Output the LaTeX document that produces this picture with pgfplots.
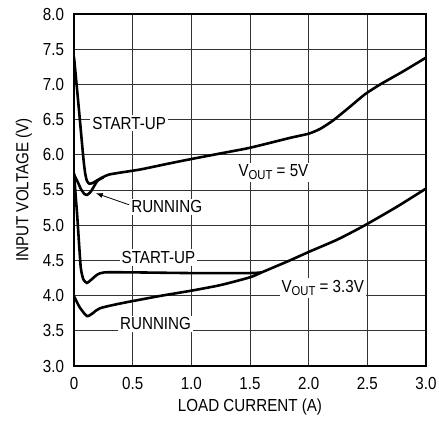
\documentclass[border=0pt]{standalone}
\usepackage{pgfplots}
\pgfplotsset{compat=1.18}
\usepackage{fontspec}
\setmainfont{Liberation Sans}[FakeStretch=0.87]
\usetikzlibrary{arrows.meta}
\newcommand{\vout}{V\raisebox{-0.35ex}{\fontsize{13}{13}\selectfont OUT}}
\begin{document}
\fontsize{17.5}{20}\selectfont
\begin{tikzpicture}
\begin{axis}[
  scale only axis,
  width=352bp, height=352bp,
  xmin=0, xmax=3, ymin=3, ymax=8,
  xtick={0,0.5,...,3}, ytick={3,3.5,...,8},
  xticklabels={0,0.5,1.0,1.5,2.0,2.5,3.0},
  yticklabels={3.0,3.5,4.0,4.5,5.0,5.5,6.0,6.5,7.0,7.5,8.0},
  /pgf/number format/assume math mode=true,
  major tick length=0pt,
  grid=major,
  grid style={black!80, line width=0.8pt},
  axis line style={black, line width=1.3pt},
  tick label style={font=\fontsize{17.5}{20}\selectfont},
  label style={font=\fontsize{17.5}{20}\selectfont},
  xlabel={LOAD CURRENT (A)},
  ylabel={INPUT VOLTAGE (V)},
  xticklabel style={yshift=-5bp},
  yticklabel style={xshift=-4bp},
  xlabel style={yshift=2bp},
  ylabel style={yshift=-1bp},
  clip=true,
]
\coordinate (bl) at (rel axis cs:0,0);
\coordinate (tr) at (rel axis cs:1,1);
% 5V start-up
\addplot[black, line width=2.6pt, smooth, tension=0.35] coordinates {
 (0,7.39) (0.04,6.68) (0.08,5.95) (0.095,5.74) (0.11,5.63) (0.13,5.59) (0.16,5.6) (0.2,5.64)
 (0.3,5.72) (0.56,5.79) (0.82,5.88) (1.0,5.94) (1.25,6.02) (1.5,6.1) (1.84,6.24) (2.0,6.3)
 (2.1,6.37) (2.21,6.49) (2.35,6.68) (2.48,6.86) (2.61,7.0) (2.8,7.18) (3.0,7.38)};
% 5V running
\addplot[black, line width=2.6pt, smooth, tension=0.4] coordinates {
 (0,5.72) (0.03,5.62) (0.06,5.51) (0.09,5.44) (0.11,5.43) (0.14,5.47) (0.17,5.55) (0.2,5.63) (0.25,5.68)};
% 3.3V start-up
\addplot[black, line width=2.6pt, smooth, tension=0.35] coordinates {
 (0,5.74) (0.017,5.36) (0.028,5.12) (0.057,4.41) (0.08,4.23) (0.11,4.18) (0.15,4.23)
 (0.2,4.3) (0.26,4.33) (0.5,4.33) (1.0,4.32) (1.5,4.32) (1.6,4.33)};
% 3.3V running
\addplot[black, line width=2.6pt, smooth, tension=0.4] coordinates {
 (0,3.99) (0.05,3.83) (0.11,3.71) (0.16,3.75) (0.22,3.82) (0.4,3.89) (0.75,4.0) (1.0,4.07)
 (1.25,4.15) (1.5,4.26) (1.6,4.33) (1.84,4.5) (2.0,4.62) (2.25,4.8) (2.48,5.0) (2.75,5.26) (3.0,5.52)};
\node[fill=white, inner sep=2pt] at (axis cs:0.47,6.45) {START-UP};
\node[fill=white, inner sep=2pt] at (axis cs:0.79,5.26) {RUNNING};
\node[fill=white, inner sep=2pt] at (axis cs:0.72,4.54) {START-UP};
\node[fill=white, inner sep=2pt] at (axis cs:0.695,3.6) {RUNNING};
\node[fill=white, inner sep=2pt] at (axis cs:2.12,4.11) {\vout{} = 3.3V};
\node[fill=white, inner sep=2pt] at (axis cs:1.70,5.75) {\vout{} = 5V};
\draw[black, line width=0.8pt, -{Latex[length=7bp,width=5bp]}] (axis cs:0.47,5.29) -- (axis cs:0.185,5.455);
\end{axis}
\pgfresetboundingbox
\path[use as bounding box] ([shift={(-74bp,-55bp)}]bl) rectangle ([shift={(13bp,14bp)}]tr);
\end{tikzpicture}
\end{document}
